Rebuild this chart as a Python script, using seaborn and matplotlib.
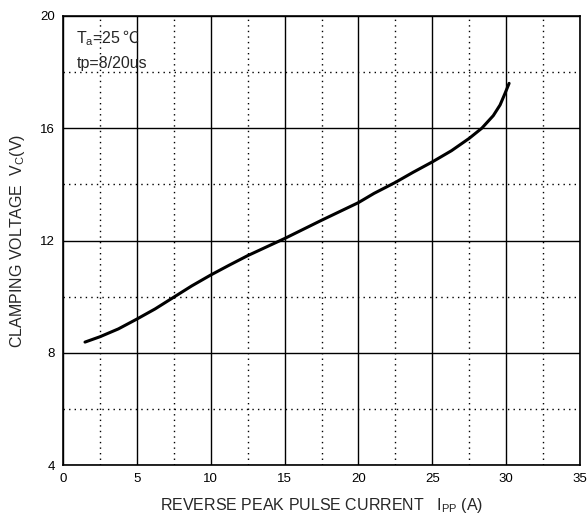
import matplotlib
matplotlib.use("Agg")
import matplotlib.pyplot as plt
import seaborn as sns
import pandas as pd
from matplotlib.ticker import MultipleLocator

current = [1.49, 2.5, 3.75, 5.0, 6.23, 7.5, 8.71, 10.0, 11.25, 12.5, 15.0, 17.5, 20.0,
           21.06, 22.5, 23.7, 25.0, 26.3, 27.5, 28.35, 29.13, 29.59, 29.93, 30.2]
voltage = [8.38, 8.57, 8.85, 9.2, 9.56, 9.98, 10.38, 10.77, 11.12, 11.46, 12.07, 12.72, 13.35,
           13.68, 14.07, 14.43, 14.8, 15.2, 15.64, 16.0, 16.45, 16.83, 17.25, 17.6]
x_ticks = [0, 5, 10, 15, 20, 25, 30, 35]
y_ticks = [4, 8, 12, 16, 20]

sns.set_style("white")
plt.rcParams['font.family'] = ['Liberation Sans', 'DejaVu Sans']
plt.rcParams['mathtext.default'] = 'regular'

df = pd.DataFrame({"I": current, "V": voltage})

fig = plt.figure(figsize=(5.88, 5.23), dpi=100)
ax = fig.add_axes([63/588, 1 - 465/523, (580 - 63)/588, (465 - 16)/523])

ax.set_xlim(0, 35)
ax.set_ylim(4, 20)
ax.set_xticks(x_ticks)
ax.set_yticks(y_ticks)
ax.xaxis.set_minor_locator(MultipleLocator(2.5))
ax.yaxis.set_minor_locator(MultipleLocator(2))
ax.grid(which='major', color='black', linestyle='-', linewidth=1.0)
ax.grid(which='minor', color='black', linestyle=(0, (1, 3)), linewidth=1.0)
ax.tick_params(which='both', length=0, labelsize=9.5, colors='black', pad=6)
for s in ax.spines.values():
    s.set_color('black')
    s.set_linewidth(1.2)
ax.set_axisbelow(True)

sns.lineplot(data=df, x="I", y="V", ax=ax, color='black', linewidth=2.2, sort=False)

ax.set_xlabel("REVERSE PEAK PULSE CURRENT   I$_{PP}$ (A)", fontsize=11.5, labelpad=8)
ax.set_ylabel("CLAMPING VOLTAGE  V$_{C}$(V)", fontsize=11.5, labelpad=9)

t1 = ax.text(0.9, 19.04, "T$_{a}$=25", fontsize=11.5, ha='left', va='baseline')
ax.text(0.9, 18.15, "tp=8/20us", fontsize=11.5, ha='left', va='baseline')

fig.canvas.draw()
bb = t1.get_window_extent()
x_end = ax.transData.inverted().transform((bb.x1 + 0.5, 0))[0]
ax.text(x_end, 19.04, "℃", fontsize=11.5, ha='left', va='baseline',
        family=['Noto Sans CJK SC', 'DejaVu Sans'], fontweight='light')

fig.savefig("out.png", dpi=100)
